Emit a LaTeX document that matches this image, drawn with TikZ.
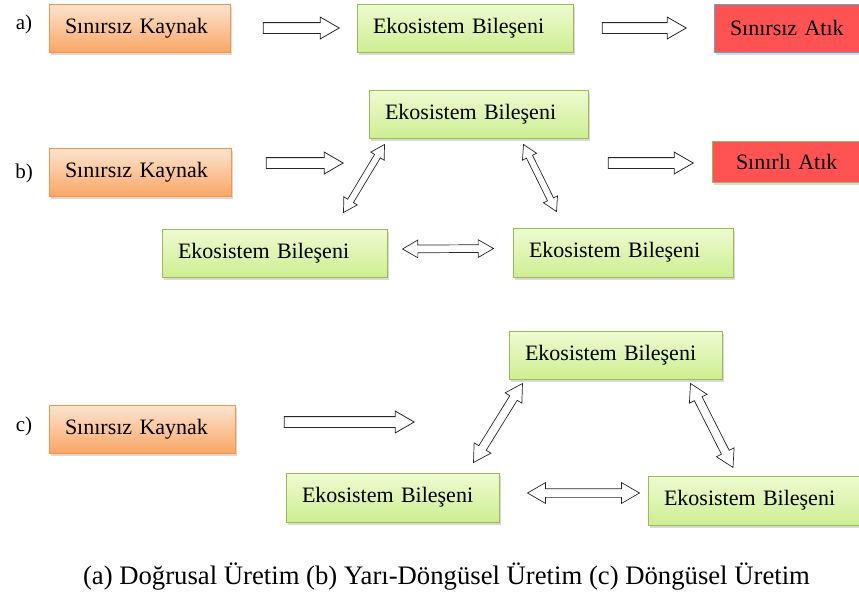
\documentclass[tikz,border=0pt]{standalone}
\usepackage{fontspec}
\setmainfont{LiberationSerif}[Extension=.ttf, UprightFont=*-Regular, BoldFont=*-Bold]
\usepackage{xcolor}
\usepackage{tikz}
\usetikzlibrary{shapes.arrows,calc,shadows}

\definecolor{kaynakcizgi}{RGB}{247,150,70}
\definecolor{kaynakust}{RGB}{253,228,208}
\definecolor{kaynakalt}{RGB}{249,166,102}
\definecolor{bilesencizgi}{RGB}{155,187,89}
\definecolor{bilesenust}{RGB}{238,251,210}
\definecolor{bilesenalt}{RGB}{205,238,145}
\definecolor{atikkirmizi}{RGB}{255,82,82}
\definecolor{atikmavi}{RGB}{90,170,205}

\newcommand{\blockarrow}[3]{%
  \path let \p1=(#2), \p2=(#3),
    \n1={atan2(\y2-\y1,\x2-\x1)}, \n2={veclen(\x2-\x1,\y2-\y1)} in
    node[#1, rotate=\n1, minimum height=\n2] at ($(\p1)!0.5!(\p2)$) {};}

\begin{document}
\begin{tikzpicture}[x=1pt,y=-1pt,
  kutu/.style={rectangle, line width=1pt, inner xsep=16pt, inner ysep=0pt,
    minimum height=48pt, align=left, font=\fontsize{22}{24}\selectfont,
    drop shadow={shadow xshift=1.5pt, shadow yshift=-3pt, opacity=0.3}},
  kaynak/.style={kutu, draw=kaynakcizgi, top color=kaynakust, bottom color=kaynakalt},
  bilesen/.style={kutu, draw=bilesencizgi, top color=bilesenust, bottom color=bilesenalt},
  atik/.style={kutu, fill=atikkirmizi},
  harf/.style={font=\fontsize{21}{23}\selectfont},
  tekok/.style={single arrow, draw=black!85, fill=white, line width=0.8pt,
    inner xsep=0pt, inner ysep=5pt, minimum width=0pt,
    single arrow head extend=5.5pt, single arrow tip angle=60, single arrow head indent=0pt},
  ciftok/.style 2 args={double arrow, draw=black!85, fill=white, line width=0.7pt,
    inner xsep=0pt, inner ysep=#1, minimum width=0pt,
    double arrow head extend=#2, double arrow tip angle=60, double arrow head indent=0pt}]
\useasboundingbox (0,0) rectangle (859,603);

% a)
\node[harf] (la) at (24,24) {a)};
\node[kaynak, text width=149pt] (ka) at (139.5,28) {Sınırsız Kaynak};
\node[bilesen, text width=184pt] (ea) at (465,28) {Ekosistem Bileşeni};
\node[atik, draw=atikmavi, text width=116pt] (ta) at (788,28) {Sınırsız Atık};
\blockarrow{tekok}{[xshift=28pt]ka.east}{[xshift=-22pt]ea.west}
\blockarrow{tekok}{[xshift=24pt]ea.east}{[xshift=-32pt]ta.west}

% b)
\node[harf] (lb) at (24,173) {b)};
\node[kaynak, text width=150pt] (kb) at (140,172) {Sınırsız Kaynak};
\node[bilesen, text width=187pt] (eb1) at (478.5,114) {Ekosistem Bileşeni};
\node[bilesen, text width=193pt] (eb2) at (274.5,253) {Ekosistem Bileşeni};
\node[bilesen, text width=188pt, minimum height=49pt] (eb3) at (623,252.5) {Ekosistem Bileşeni};
\node[atik, draw=bilesencizgi, inner xsep=24pt, text width=102pt, minimum height=41pt] (tb) at (787,161.5) {Sınırlı Atık};
\blockarrow{tekok}{[xshift=30pt,yshift=9pt]kb.east}{[xshift=107pt,yshift=9pt]kb.east}
\blockarrow{tekok}{[xshift=15pt,yshift=-49pt]eb1.east}{[xshift=-23pt,yshift=-1.5pt]tb.west}
\blockarrow{ciftok={3pt}{4.5pt}}{[xshift=-44pt,yshift=16pt]eb2.north east}{[xshift=16pt,yshift=-6pt]eb1.south west}
\blockarrow{ciftok={3pt}{4.5pt}}{[xshift=-65pt,yshift=-6pt]eb1.south east}{[xshift=44pt,yshift=16pt]eb3.north west}
\blockarrow{ciftok={3.5pt}{5pt}}{[xshift=15pt,yshift=4pt]eb2.east}{[xshift=-19pt,yshift=4pt]eb3.west}

% c)
\node[harf] (lc) at (24,426) {c)};
\node[kaynak, text width=154pt] (kc) at (142,429) {Sınırsız Kaynak};
\node[bilesen, text width=181pt] (ec1) at (615.5,355) {Ekosistem Bileşeni};
\node[bilesen, text width=181pt, minimum height=49pt] (ec2) at (392.5,497.5) {Ekosistem Bileşeni};
\node[bilesen, text width=182pt, minimum height=49pt] (ec3) at (755,500.5) {Ekosistem Bileşeni};
\blockarrow{tekok}{[xshift=44pt,yshift=7pt]kc.east}{[xshift=174pt,yshift=7pt]kc.east}
\blockarrow{ciftok={4pt}{5.5pt}}{[xshift=-26pt,yshift=10pt]ec2.north east}{[xshift=14pt,yshift=-4pt]ec1.south west}
\blockarrow{ciftok={4pt}{5.5pt}}{[xshift=-32pt,yshift=-4pt]ec1.south east}{[xshift=-22pt,yshift=8pt]ec3.north}
\blockarrow{ciftok={4pt}{6pt}}{[xshift=28pt,yshift=4.5pt]ec2.east}{[xshift=-8pt,yshift=7.5pt]ec3.west}

\node[font=\fontsize{26.7}{30}\selectfont] (altyazi) at (446.5,577)
  {(a) Doğrusal Üretim (b) Yarı-Döngüsel Üretim (c) Döngüsel Üretim};
\end{tikzpicture}
\end{document}
